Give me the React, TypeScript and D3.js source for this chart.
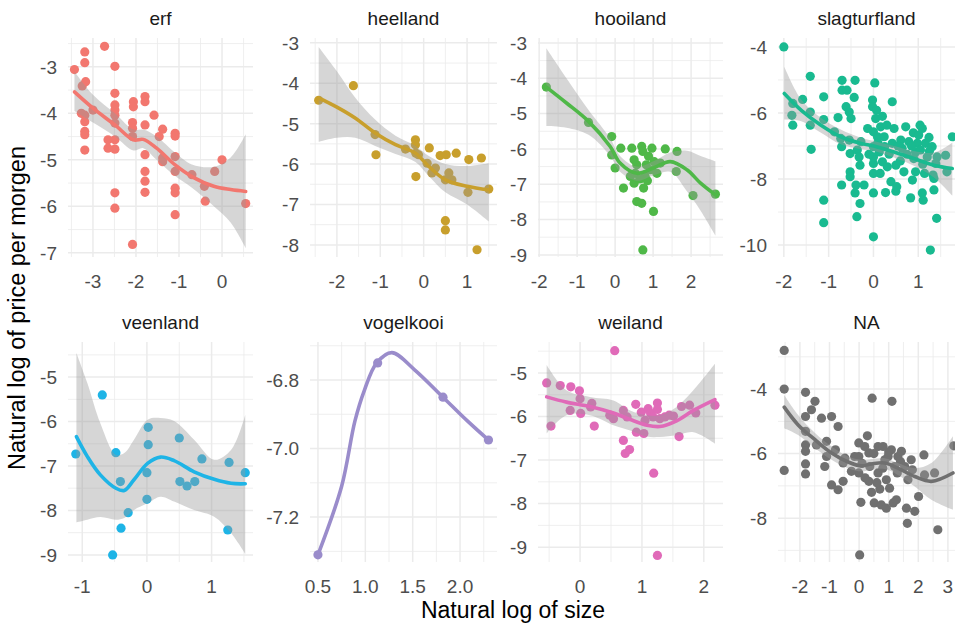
import React from "react";
import * as d3 from "d3";

// points: [log size, log price]
const erfPoints = [
  [-3.43, -3.06], [-3.19, -2.68], [-3.19, -2.91], [-3.17, -3.32], [-3.25, -3.41], [-3.27, -4.0],
  [-3.19, -4.04], [-3.19, -4.18], [-3.19, -4.39], [-3.19, -4.46], [-3.19, -4.79], [-3.0, -3.93],
  [-2.73, -2.56], [-2.49, -2.99], [-2.49, -3.57], [-2.49, -3.82], [-2.49, -3.93], [-2.49, -4.04],
  [-2.49, -4.21], [-2.49, -4.57], [-2.49, -4.77], [-2.65, -4.57], [-2.65, -4.75], [-2.49, -5.71],
  [-2.49, -6.04], [-2.06, -3.75], [-2.06, -3.86], [-2.08, -4.2], [-2.08, -4.32], [-2.08, -4.5],
  [-2.08, -6.82], [-1.79, -3.64], [-1.79, -3.75], [-1.79, -4.25], [-1.79, -4.89], [-1.79, -5.25],
  [-1.79, -5.46], [-1.79, -5.7], [-1.58, -4.04], [-1.46, -4.5], [-1.38, -4.34], [-1.38, -4.96],
  [-1.38, -5.04], [-1.09, -4.43], [-1.09, -4.49], [-1.09, -4.93], [-1.09, -5.25], [-1.09, -5.61],
  [-1.09, -5.71], [-1.09, -6.18], [-0.7, -5.32], [-0.41, -5.57], [-0.39, -5.89], [-0.17, -5.25],
  [0.0, -5.0], [0.55, -5.94],
];
const heellandPoints = [
  [-2.42, -4.42], [-1.62, -4.06], [-1.12, -5.27], [-1.1, -5.77], [-0.42, -5.63], [-0.19, -5.4],
  [-0.19, -5.52], [-0.18, -5.73], [-0.18, -6.31], [-0.12, -5.77], [0.08, -5.98], [0.13, -5.6],
  [0.19, -6.22], [0.27, -6.1], [0.38, -5.79], [0.52, -5.77], [0.5, -6.39], [0.58, -6.22],
  [0.65, -6.39], [0.5, -7.4], [0.5, -7.63], [0.75, -5.73], [1.04, -5.89], [1.02, -6.7],
  [1.33, -5.85], [1.23, -8.12], [1.5, -6.62],
];
const hooilandPoints = [
  [-1.81, -4.25], [-0.7, -5.25], [-0.09, -5.65], [-0.09, -6.17], [0.0, -6.54], [0.15, -5.98],
  [0.22, -7.11], [0.44, -5.98], [0.5, -6.31], [0.5, -6.97], [0.53, -6.69], [0.57, -7.49],
  [0.7, -7.54], [0.7, -5.93], [0.73, -6.07], [0.73, -8.86], [0.75, -7.11], [0.79, -6.78],
  [0.82, -6.45], [0.88, -6.21], [0.93, -6.59], [0.97, -5.98], [1.01, -7.77], [1.03, -6.36],
  [1.1, -6.69], [1.19, -6.4], [1.32, -6.0], [1.63, -6.07], [1.61, -6.64], [2.05, -7.32],
  [2.64, -7.28], [0.57, -6.45], [0.4, -6.78], [0.65, -6.85], [0.85, -6.9],
];
const slagturflandPoints = [
  [-2.0, -4.0], [-1.8, -5.71], [-1.82, -6.07], [-1.8, -6.37], [-1.58, -5.59], [-1.41, -4.89],
  [-1.41, -5.97], [-1.41, -6.37], [-1.39, -7.1], [-1.11, -5.51], [-1.11, -6.2], [-1.11, -8.64],
  [-1.11, -9.32], [-0.87, -6.57], [-0.79, -6.14], [-0.73, -6.77], [-0.71, -7.02], [-0.71, -8.18],
  [-0.7, -5.01], [-0.7, -5.31], [-0.59, -5.31], [-0.61, -5.81], [-0.54, -5.97], [-0.5, -6.17],
  [-0.54, -6.82], [-0.52, -7.23], [-0.52, -7.78], [-0.52, -7.93], [-0.43, -5.53], [-0.41, -5.01],
  [-0.41, -8.42], [-0.39, -8.18], [-0.37, -9.14], [-0.36, -7.12], [-0.32, -7.33], [-0.3, -7.58],
  [-0.3, -8.74], [-0.28, -6.87], [-0.21, -8.18], [-0.13, -6.47], [-0.02, -5.61], [-0.02, -5.81],
  [0.0, -6.57], [0.0, -7.02], [0.0, -7.33], [0.0, -7.53], [0.0, -7.83], [0.0, -8.42],
  [0.0, -9.75], [0.03, -5.09], [0.05, -6.17], [0.07, -5.92], [0.09, -6.72], [0.13, -7.18],
  [0.15, -7.83], [0.16, -6.42], [0.2, -7.48], [0.24, -6.72], [0.25, -7.02], [0.27, -8.41],
  [0.3, -6.37], [0.31, -7.63], [0.39, -8.08], [0.42, -5.66], [0.42, -6.92], [0.46, -6.47],
  [0.5, -7.58], [0.5, -8.37], [0.52, -8.23], [0.61, -6.82], [0.64, -7.07], [0.68, -7.78],
  [0.72, -6.42], [0.79, -6.87], [0.83, -8.57], [0.87, -8.03], [0.89, -6.6], [0.9, -7.38],
  [0.94, -7.18], [0.94, -7.78], [0.98, -6.92], [1.01, -6.67], [1.04, -6.37], [1.05, -7.12],
  [1.09, -6.47], [1.09, -8.42], [1.11, -8.64], [1.14, -7.83], [1.16, -6.92], [1.2, -7.33],
  [1.24, -6.74], [1.27, -10.15], [1.31, -7.02], [1.33, -7.88], [1.35, -7.98], [1.35, -8.33],
  [1.41, -9.19], [1.42, -7.33], [1.39, -7.53], [1.61, -7.28], [1.64, -7.78], [1.76, -6.72],
  [0.1, -6.9], [0.35, -7.25], [0.55, -7.0], [0.75, -7.25], [1.1, -7.55], [1.25, -7.15],
  [-0.1, -7.25], [0.2, -6.1], [0.6, -7.45], [0.85, -7.0],
];
const veenlandPoints = [
  [-1.1, -6.73], [-0.69, -5.4], [-0.48, -6.7], [-0.41, -7.35], [-0.4, -8.4], [-0.53, -9.0],
  [-0.29, -8.05], [0.02, -6.13], [0.02, -6.52], [0.0, -7.15], [0.0, -7.75], [0.5, -6.37],
  [0.51, -7.35], [0.62, -7.45], [0.74, -7.35], [0.85, -6.84], [1.27, -6.92], [1.25, -8.44],
  [1.52, -7.15],
];
const vogelkooiPoints = [[0.5, -7.31], [1.13, -6.75], [1.82, -6.85], [2.3, -6.975]];
const weilandPoints = [
  [-0.54, -5.23], [-0.47, -6.22], [-0.32, -5.29], [-0.15, -5.32], [-0.16, -5.86], [-0.01, -5.41],
  [0.0, -5.59], [0.01, -5.93], [0.19, -5.7], [0.23, -6.22], [0.17, -5.78], [0.56, -4.49],
  [0.48, -5.97], [0.54, -6.05], [0.7, -5.86], [0.7, -6.55], [0.73, -6.85], [0.8, -6.76],
  [0.76, -6.01], [0.9, -5.72], [0.91, -6.36], [0.99, -5.9], [1.03, -6.39], [1.05, -6.09],
  [1.1, -5.82], [1.14, -5.93], [1.18, -6.01], [1.19, -7.3], [1.25, -5.69], [1.25, -5.84],
  [1.25, -9.19], [1.29, -6.05], [1.37, -6.01], [1.44, -5.97], [1.51, -5.99], [1.6, -6.46],
  [1.64, -5.77], [1.77, -5.74], [1.87, -5.92], [2.18, -5.74],
];
const naPoints = [
  [-2.53, -2.8], [-2.53, -4.0], [-2.53, -6.52], [-1.81, -4.1], [-1.81, -4.85], [-1.81, -5.31],
  [-1.81, -5.73], [-1.81, -5.93], [-1.81, -6.32], [-1.81, -6.63], [-1.61, -4.64], [-1.49, -4.38],
  [-1.44, -5.73], [-1.27, -4.9], [-1.1, -5.62], [-1.1, -6.09], [-1.16, -6.4], [-0.93, -4.85],
  [-0.93, -6.97], [-0.71, -5.16], [-0.71, -7.12], [-0.54, -6.86], [-0.8, -5.88], [-0.54, -6.29],
  [-0.48, -6.14], [-0.01, -5.67], [-0.01, -6.09], [-0.01, -6.6], [0.06, -7.51], [0.02, -9.14],
  [0.28, -5.45], [0.33, -5.98], [0.36, -6.4], [0.33, -6.86], [0.44, -4.28], [0.42, -7.2],
  [0.51, -7.53], [0.64, -5.78], [0.64, -6.6], [0.7, -7.1], [0.75, -7.59], [0.81, -5.78],
  [0.87, -6.19], [0.92, -7.69], [0.92, -6.81], [1.03, -7.07], [1.09, -5.88], [1.11, -4.38],
  [1.15, -7.53], [1.26, -7.43], [1.29, -6.6], [1.31, -6.09], [1.43, -5.93], [1.54, -6.4],
  [1.6, -7.69], [1.63, -8.16], [1.65, -6.81], [1.76, -6.19], [1.88, -7.79], [2.01, -7.33],
  [2.19, -6.04], [2.21, -6.66], [2.55, -6.6], [2.66, -8.36], [3.2, -5.76], [-0.26, -6.55],
  [-0.15, -6.09], [0.19, -5.78], [0.98, -6.09], [1.2, -6.4], [0.1, -6.3], [0.5, -6.0],
  [0.8, -6.45], [1.0, -5.95], [1.4, -6.25], [0.2, -6.75], [0.6, -6.9], [1.8, -6.5],
];

// smoother: [x, fit, lower, upper]
const erfFit = [
  [-3.43, -3.54, -3.95, -3.1], [-3.0, -3.89, -4.2, -3.6], [-2.49, -4.25, -4.5, -4.0],
  [-2.06, -4.57, -4.8, -4.35], [-1.83, -4.56, -4.75, -4.35], [-1.52, -4.75, -5.0, -4.5],
  [-1.09, -5.11, -5.35, -4.85], [-0.7, -5.36, -5.6, -5.1], [-0.19, -5.57, -6.0, -5.15],
  [0.2, -5.64, -6.35, -4.95], [0.55, -5.68, -6.9, -4.45],
];
const heellandFit = [
  [-2.42, -4.36, -5.45, -3.1], [-2.0, -4.59, -5.35, -3.7], [-1.58, -4.86, -5.35, -4.35],
  [-1.12, -5.23, -5.55, -4.9], [-0.65, -5.52, -5.75, -5.3], [-0.19, -5.73, -5.95, -5.55],
  [0.12, -6.06, -6.3, -5.8], [0.5, -6.39, -6.7, -6.0], [1.0, -6.55, -7.0, -6.05],
  [1.5, -6.64, -7.42, -5.98],
];
const hooilandFit = [
  [-1.81, -4.25, -5.35, -3.15], [-1.28, -4.7, -5.4, -4.0], [-0.7, -5.22, -5.6, -4.9],
  [-0.13, -5.93, -6.2, -5.7], [0.13, -6.4, -6.65, -6.2], [0.57, -6.69, -6.9, -6.5],
  [1.01, -6.54, -6.75, -6.35], [1.45, -6.36, -6.65, -6.1], [1.89, -6.59, -7.2, -6.05],
  [2.25, -6.97, -7.75, -6.2], [2.64, -7.3, -8.45, -6.35],
];
const slagturflandFit = [
  [-1.99, -5.41, -6.2, -4.6], [-1.61, -5.92, -6.25, -5.6], [-1.17, -6.37, -6.6, -6.15],
  [-0.73, -6.72, -6.95, -6.5], [-0.28, -6.92, -7.1, -6.75], [0.01, -7.0, -7.15, -6.85],
  [0.46, -7.18, -7.35, -7.0], [0.9, -7.38, -7.6, -7.15], [1.35, -7.58, -7.95, -7.2],
  [1.76, -7.68, -8.5, -6.9],
];
const veenlandFit = [
  [-1.09, -6.34, -8.27, -4.46], [-0.92, -6.79, -8.21, -5.14], [-0.72, -7.2, -8.15, -6.04],
  [-0.48, -7.5, -8.21, -6.75], [-0.35, -7.55, -8.17, -6.71], [-0.2, -7.31, -7.99, -6.41],
  [0.01, -6.94, -7.84, -5.96], [0.21, -6.8, -7.69, -5.92], [0.42, -6.88, -7.8, -5.99],
  [0.73, -7.13, -7.99, -6.41], [1.04, -7.3, -8.14, -6.86], [1.3, -7.39, -8.51, -6.64],
  [1.52, -7.4, -8.98, -5.85],
];
// vogelkooi has too few points for a band
const vogelkooiFit = [
  [0.5, -7.31], [0.75, -7.11], [0.89, -6.92], [0.99, -6.83], [1.12, -6.75], [1.28, -6.72],
  [1.52, -6.77], [1.82, -6.85], [2.08, -6.92], [2.3, -6.975],
];
const weilandFit = [
  [-0.54, -5.55, -6.39, -4.82], [-0.22, -5.67, -5.97, -5.4], [0.16, -5.77, -5.97, -5.55],
  [0.54, -5.92, -6.2, -5.63], [0.81, -6.07, -6.32, -5.86], [1.08, -6.2, -6.46, -5.97],
  [1.29, -6.23, -6.47, -5.97], [1.56, -6.1, -6.43, -5.78], [1.83, -5.86, -6.36, -5.4],
  [2.18, -5.61, -6.62, -4.79],
];
const naFit = [
  [-2.53, -4.56, -5.21, -4.18], [-2.06, -5.11, -5.42, -4.8], [-1.49, -5.57, -5.83, -5.36],
  [-0.93, -5.98, -6.19, -5.78], [-0.37, -6.26, -6.45, -6.09], [0.08, -6.38, -6.55, -6.19],
  [0.42, -6.32, -6.5, -6.17], [0.87, -6.29, -6.48, -6.14], [1.31, -6.45, -6.66, -6.29],
  [1.88, -6.71, -7.02, -6.45], [2.44, -6.86, -7.43, -6.29], [3.17, -6.6, -7.74, -5.46],
];

const landTypes = ["erf", "heelland", "hooiland", "slagturfland", "veenland", "vogelkooi", "weiland", "NA"];
const landColors = ["#F2776F", "#C89F2C", "#4FB848", "#19BA90", "#1EB4E6", "#9A8CCB", "#E06AB8", "#707070"];

// axis breaks and limits per facet (free scales)
const xBreaks = [[-3, -2, -1, 0], [-2, -1, 0, 1], [-2, -1, 0, 1, 2], [-2, -1, 0, 1], [-1, 0, 1], [0.5, 1, 1.5, 2], [0, 1, 2], [-2, -1, 0, 1, 2, 3]];
const yBreaks = [[-7, -6, -5, -4, -3], [-8, -7, -6, -5, -4, -3], [-9, -8, -7, -6, -5, -4, -3], [-10, -8, -6, -4], [-9, -8, -7, -6, -5], [-7.2, -7.0, -6.8], [-9, -8, -7, -6, -5], [-8, -6, -4]];
const xLimits = [[-3.58, 0.72], [-2.62, 1.69], [-2.03, 2.84], [-2.13, 1.82], [-1.22, 1.64], [0.416, 2.39], [-0.68, 2.31], [-2.74, 3.24]];
const yLimits = [[-7.09, -2.38], [-8.3, -2.88], [-9.06, -2.86], [-10.36, -3.73], [-9.16, -4.21], [-7.331, -6.689], [-9.34, -4.29], [-9.36, -2.54]];

const pointSets = [erfPoints, heellandPoints, hooilandPoints, slagturflandPoints, veenlandPoints, vogelkooiPoints, weilandPoints, naPoints];
const fitSets = [erfFit, heellandFit, hooilandFit, slagturflandFit, veenlandFit, vogelkooiFit, weilandFit, naFit];

const cols = [[68, 253], [310, 497], [538, 723], [778, 955]];
const rows = [[38, 257], [342, 562]];
const font = "'Liberation Sans', Arial, Helvetica, sans-serif";

function minorBreaks(br: number[], dom: number[]) {
  const step = br[1] - br[0];
  const ext = [br[0] - step, ...br, br[br.length - 1] + step];
  const out: number[] = [];
  for (let i = 0; i < ext.length - 1; i++) {
    const m = (ext[i] + ext[i + 1]) / 2;
    if (m >= dom[0] && m <= dom[1]) out.push(m);
  }
  return out;
}

const fmt = (v: number, decimals: boolean) => {
  const s = decimals ? Math.abs(v).toFixed(1) : String(Math.abs(v));
  return (v < 0 ? "-" : "") + s;
};

function Panel({ i }: { i: number }) {
  const [x0, x1] = cols[i % 4];
  const [y0, y1] = rows[Math.floor(i / 4)];
  const x = d3.scaleLinear().domain(xLimits[i]).range([x0, x1]);
  const y = d3.scaleLinear().domain(yLimits[i]).range([y1, y0]);
  const color = landColors[i];
  const fit = fitSets[i];
  const decimals = landTypes[i] === "vogelkooi";

  const line = d3.line<number[]>().x((d) => x(d[0])).y((d) => y(d[1])).curve(d3.curveCatmullRom.alpha(0.5));
  const band = d3.area<number[]>().x((d) => x(d[0])).y0((d) => y(d[2])).y1((d) => y(d[3])).curve(d3.curveCatmullRom.alpha(0.5));
  const hasBand = fit[0].length === 4;

  return (
    <g>
      <clipPath id={`clip${i}`}>
        <rect x={x0} y={y0} width={x1 - x0} height={y1 - y0} />
      </clipPath>
      {minorBreaks(xBreaks[i], xLimits[i]).map((v) => (
        <line key={"xm" + v} x1={x(v)} x2={x(v)} y1={y0} y2={y1} stroke="#EBEBEB" strokeWidth={0.8} />
      ))}
      {minorBreaks(yBreaks[i], yLimits[i]).map((v) => (
        <line key={"ym" + v} x1={x0} x2={x1} y1={y(v)} y2={y(v)} stroke="#EBEBEB" strokeWidth={0.8} />
      ))}
      {xBreaks[i].map((v) => (
        <line key={"x" + v} x1={x(v)} x2={x(v)} y1={y0} y2={y1} stroke="#EBEBEB" strokeWidth={1.5} />
      ))}
      {yBreaks[i].map((v) => (
        <line key={"y" + v} x1={x0} x2={x1} y1={y(v)} y2={y(v)} stroke="#EBEBEB" strokeWidth={1.5} />
      ))}
      <g clipPath={`url(#clip${i})`}>
        {pointSets[i].map((d, k) => (
          <circle key={k} cx={x(d[0])} cy={y(d[1])} r={4.6} fill={color} />
        ))}
        {hasBand && <path d={band(fit) || ""} fill="#999999" fillOpacity={0.4} />}
        <path d={line(fit) || ""} fill="none" stroke={color} strokeWidth={3.6} strokeLinecap="round" />
      </g>
      {xBreaks[i].map((v) => (
        <text key={"xt" + v} x={x(v)} y={y1 + 31} textAnchor="middle" fontSize={19} fill="#4D4D4D" fontFamily={font}>
          {fmt(v, decimals)}
        </text>
      ))}
      {yBreaks[i].map((v) => (
        <text key={"yt" + v} x={x0 - 11} y={y(v)} dy="0.36em" textAnchor="end" fontSize={19} fill="#4D4D4D" fontFamily={font}>
          {fmt(v, decimals)}
        </text>
      ))}
      <text x={(x0 + x1) / 2} y={y0 - 13} textAnchor="middle" fontSize={19} fill="#1A1A1A" fontFamily={font}>
        {landTypes[i]}
      </text>
    </g>
  );
}

export default function App() {
  return (
    <svg width={959} height={624} style={{ position: "absolute", left: 0, top: 0, background: "#fff" }}>
      <rect width={959} height={624} fill="#fff" />
      {landTypes.map((_, i) => (
        <Panel key={i} i={i} />
      ))}
      <text x={513} y={618} textAnchor="middle" fontSize={23} fill="#000" fontFamily={font}>
        Natural log of size
      </text>
      <text transform="translate(25,308) rotate(-90)" textAnchor="middle" fontSize={23.5} fill="#000" fontFamily={font}>
        Natural log of price per morgen
      </text>
    </svg>
  );
}
